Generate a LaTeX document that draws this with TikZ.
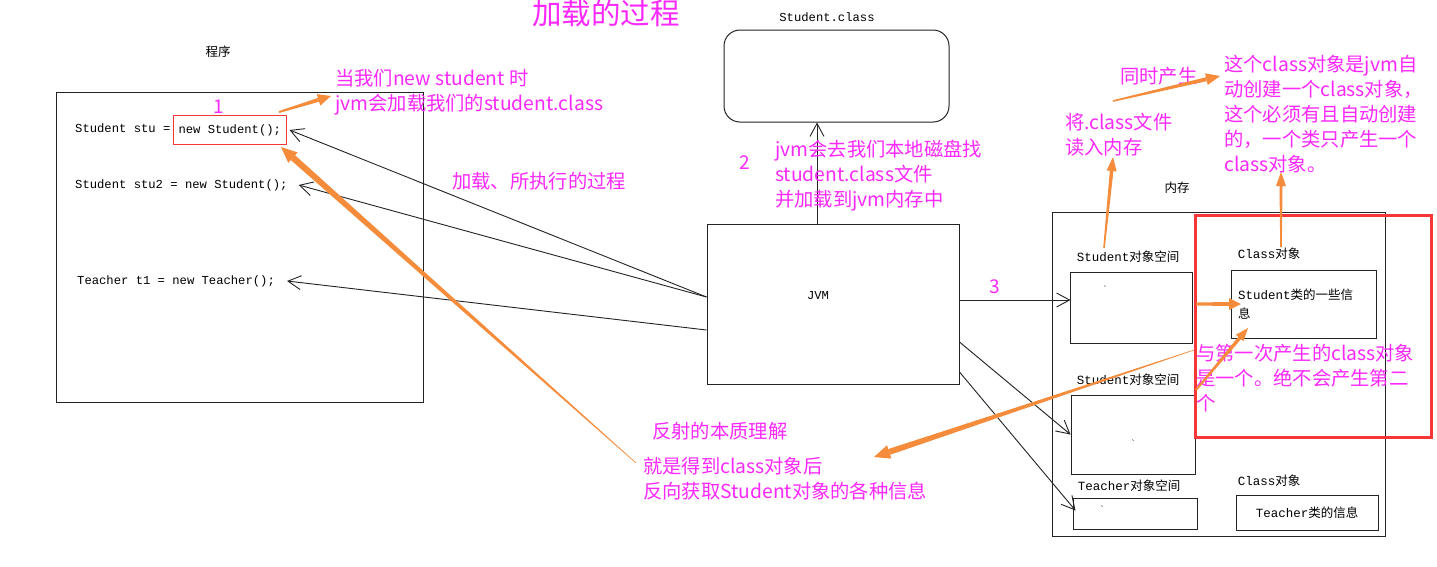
\documentclass[tikz,border=0pt]{standalone}
\usepackage{fontspec}
\newfontfamily\cjk{Noto Sans CJK SC}
\newfontfamily\codefont{Liberation Mono}
\usetikzlibrary{arrows.meta,calc}
\definecolor{pinkc}{RGB}{250,40,250}
\definecolor{orng}{RGB}{245,140,60}
\definecolor{redc}{RGB}{245,55,55}
\definecolor{ink}{RGB}{35,35,35}
\newcommand\oarrow[6]{%
  \coordinate (tmpb) at ($(#2)!#5!(#1)$);
  \fill[orng] ($(#1)!#3!90:(#2)$) -- ($(#1)!#3!-90:(#2)$) -- ($(tmpb)!#4!90:(#1)$) -- ($(tmpb)!#4!-90:(#1)$) -- cycle;
  \fill[orng] (#2) -- ($(tmpb)!#6!90:(#1)$) -- ($(tmpb)!#6!-90:(#1)$) -- cycle;
}
\begin{document}
\begin{tikzpicture}[x=1pt,y=-1pt,
  pinktext/.style={text=pinkc, font=\cjk\fontsize{19.3}{25}\selectfont, align=left, inner sep=0pt, anchor=north west},
  pinknum/.style={text=pinkc, font=\cjk\fontsize{19}{20}\selectfont, inner sep=0pt},
  code/.style={font=\codefont\fontsize{12.2}{14}\selectfont, inner sep=0pt, text=black},
  lbl/.style={font=\cjk\fontsize{12.5}{14}\selectfont, inner sep=0pt, text=black},
  box/.style={draw=ink, line width=1pt, inner sep=0pt},
  blk/.style={draw=ink, line width=0.9pt, -{Straight Barb[length=13pt,width=14pt]}}
]
\fill[white] (0,0) rectangle (1437,566);
\useasboundingbox (0,0) rectangle (1437,566);

% title
\node[text=pinkc, font=\cjk\fontsize{29.5}{31}\selectfont, inner sep=0pt] (title) at (606,13) {加载的过程};

% program
\node[lbl] (proglbl) at (218,52) {程序};
\node[box, minimum width=366.5pt, minimum height=310pt] (prog) at (239.75,247) {};
\node[code, anchor=west] (s1) at (75,128) {Student stu =};
\node[code, draw=redc, line width=1pt, minimum width=112.5pt, minimum height=29pt] (s1b) at (229.75,130) {new Student();};
\node[code, anchor=west] (s2) at (75,185) {Student stu2 = new Student();};
\node[code, anchor=west] (t1) at (77,281) {Teacher t1 = new Teacher();};
\node[pinknum] (n1) at (219,107) {1};

% Student.class
\node[code] (sclbl) at (827,17) {Student.class};
\node[box, rounded corners=16pt, minimum width=225pt, minimum height=92pt] (sc) at (836.5,76) {};

% JVM
\node[box, minimum width=252pt, minimum height=160pt] (jvm) at (833,304) {};
\node[code] (jvmlbl) at (818,296) {JVM};
\node[pinknum] (n2) at (745,163) {2};
\node[pinknum] (n3) at (995,287) {3};

% memory
\node[lbl] (memlbl) at (1177,188) {内存};
\node[box, minimum width=333pt, minimum height=324pt] (mem) at (1218.5,374) {};
\node[lbl] (so1lbl) at (1128,257) {{\codefont Student}对象空间};
\node[box, minimum width=122pt, minimum height=71pt] (so1) at (1131,307.5) {};
\node[code, font=\codefont\fontsize{9}{10}\selectfont] at (1105,289) {`};
\node[lbl] (so2lbl) at (1128,380) {{\codefont Student}对象空间};
\node[box, minimum width=124pt, minimum height=79pt] (so2) at (1133,434.5) {};
\node[code, font=\codefont\fontsize{9}{10}\selectfont] at (1133,443) {`};
\node[lbl] (tolbl) at (1129,486) {{\codefont Teacher}对象空间};
\node[box, minimum width=124pt, minimum height=31pt] (to) at (1135,513.5) {};
\node[code, font=\codefont\fontsize{9}{10}\selectfont] at (1102,509) {`};
\node[lbl] (cs1lbl) at (1269,254) {{\codefont Class}对象};
\node[box, minimum width=145pt, minimum height=68pt] (cs) at (1303.5,304) {};
\node[lbl, anchor=west] (cstxt1) at (1238,295) {{\codefont Student}类的一些信};
\node[lbl, anchor=west] (cstxt2) at (1238,314) {息};
\node[lbl] (cs2lbl) at (1269,481) {{\codefont Class}对象};
\node[box, minimum width=142pt, minimum height=35pt] (ct) at (1307,512.5) {};
\node[lbl] (cttxt) at (1307,513) {{\codefont Teacher}类的信息};
\node[draw=redc, line width=3pt, minimum width=236pt, minimum height=222pt, inner sep=0pt] (red) at (1313,326) {};

% black arrows
\draw[blk] ($(jvm.west)+(0,-7)$) -- ($(s1b.east)+(3,0)$);
\draw[blk] ($(jvm.west)+(0,-7)$) -- ($(s2.east)+(11,0)$);
\draw[blk] ($(jvm.west)+(0,26)$) -- ($(t1.east)+(12,0)$);
\draw[blk] ($(jvm.north)+(-16,0)$) -- ($(sc.south)+(-19.5,0)$);
\draw[blk] ($(jvm.east)+(0,-4)$) -- ($(so1.west)+(1,-7.5)$);
\draw[blk] ($(jvm.east)+(0,38)$) -- (so2.west);
\draw[blk] ($(jvm.east)+(0,68)$) -- ($(to.west)+(3,-3)$);

% pink texts
\node[pinktext] (p1) at (335,69) {当我们new student 时\\jvm会加载我们的student.class};
\node[pinktext] (p2) at (452,172) {加载、所执行的过程};
\node[pinktext] (p3) at (775,140) {jvm会去我们本地磁盘找\\student.class文件\\并加载到jvm内存中};
\node[pinktext] (p4) at (1120,67) {同时产生};
\node[pinktext] (p5) at (1065,113) {将.class文件\\读入内存};
\node[pinktext] (p6) at (1224,55) {这个class对象是jvm自\\动创建一个class对象，\\这个必须有且自动创建\\的，一个类只产生一个\\class对象。};
\node[pinktext] (p7) at (1196,344) {与第一次产生的class对象\\是一个。绝不会产生第二\\个};
\node[pinktext] (p8) at (652,422) {反射的本质理解};
\node[pinktext] (p9) at (643,457) {就是得到class对象后\\反向获取Student对象的各种信息};

% orange arrows
\coordinate (a1t) at (279,112); \coordinate (a1h) at (331,96);
\oarrow{a1t}{a1h}{1pt}{2pt}{13pt}{6pt}
\coordinate (a2t) at (636,463); \coordinate (a2h) at (281,147);
\oarrow{a2t}{a2h}{0.3pt}{3.2pt}{16pt}{7pt}
\coordinate (a3t) at (1113,101); \coordinate (a3h) at (1220,76);
\oarrow{a3t}{a3h}{0.8pt}{2pt}{14pt}{6pt}
\coordinate (a4t) at (1104,248); \coordinate (a4h) at (1113,157);
\oarrow{a4t}{a4h}{0.8pt}{1.8pt}{14pt}{5pt}
\coordinate (a5t) at (1281,247); \coordinate (a5h) at (1281,172);
\oarrow{a5t}{a5h}{0.8pt}{1.5pt}{14pt}{5pt}
\coordinate (a6t) at (1196,304); \coordinate (a6h) at (1241,304);
\oarrow{a6t}{a6h}{1.5pt}{2pt}{12pt}{6pt}
\coordinate (a7t) at (1194,350); \coordinate (a7h) at (874,457);
\oarrow{a7t}{a7h}{0.3pt}{3pt}{16pt}{7pt}
\coordinate (a8t) at (1196,390); \coordinate (a8h) at (1248,328);
\oarrow{a8t}{a8h}{1pt}{1.8pt}{13pt}{5pt}
\end{tikzpicture}
\end{document}
